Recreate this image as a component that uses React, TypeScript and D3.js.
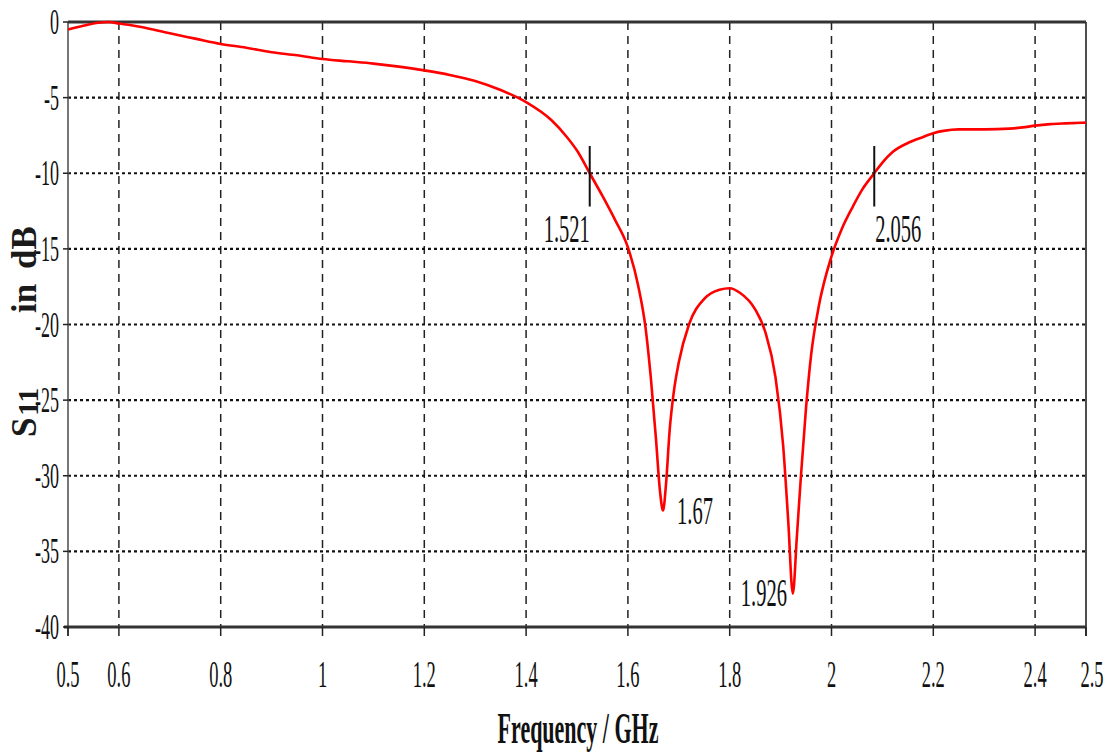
import React from "react";
import * as d3 from "d3";

// S11 curve (GHz, dB)
const freqs = [
  0.5, 0.53, 0.56, 0.58, 0.6, 0.63, 0.66, 0.7, 0.75, 0.8, 0.85, 0.9, 0.95, 1.0,
  1.05, 1.1, 1.15, 1.2, 1.25, 1.3, 1.35, 1.4, 1.45, 1.48, 1.5, 1.525, 1.55,
  1.575, 1.6, 1.62, 1.635, 1.645, 1.655, 1.663, 1.669, 1.675, 1.682, 1.69, 1.7,
  1.72, 1.75, 1.78, 1.8, 1.82, 1.85, 1.87, 1.89, 1.905, 1.915, 1.924, 1.932,
  1.94, 1.95, 1.96, 1.975, 2.0, 2.02, 2.042, 2.06, 2.084, 2.1, 2.12, 2.15, 2.18,
  2.2, 2.22, 2.25, 2.3, 2.35, 2.38, 2.4, 2.43, 2.46, 2.5,
];
const s11 = [
  -0.5, -0.25, -0.05, 0, -0.1, -0.25, -0.45, -0.75, -1.1, -1.45, -1.7, -2.0,
  -2.2, -2.45, -2.6, -2.75, -2.95, -3.2, -3.5, -3.9, -4.5, -5.3, -6.5, -7.6,
  -8.5, -10, -11.5, -13.1, -14.9, -17.4, -20.3, -23.5, -27.5, -31, -32.3, -30.5,
  -27, -24.5, -22.5, -20, -18.3, -17.7, -17.6, -17.9, -19, -20.5, -23.5, -28,
  -33, -37.8, -34, -30, -25.5, -22, -18.8, -15.5, -13.7, -12.2, -11.1, -10, -9.3,
  -8.6, -8.0, -7.6, -7.35, -7.2, -7.1, -7.1, -7.05, -6.95, -6.85, -6.75, -6.7,
  -6.65,
];

const xTicks = [0.5, 0.6, 0.8, 1, 1.2, 1.4, 1.6, 1.8, 2, 2.2, 2.4, 2.5];
const xTickLabels = ["0.5", "0.6", "0.8", "1", "1.2", "1.4", "1.6", "1.8", "2", "2.2", "2.4", "2.5"];
const yTicks = [0, -5, -10, -15, -20, -25, -30, -35, -40];

// -10 dB band edges (marker position, printed label)
const edgeFreqs = [1.525, 2.084];
const edgeLabels = ["1.521", "2.056"];
// resonances
const dipFreqs = [1.669, 1.924];
const dipValues = [-32.3, -37.8];
const dipLabels = ["1.67", "1.926"];

const W = 1112;
const H = 756;
const margin = { top: 22, right: 26, bottom: 129, left: 68 };
const SERIF = "'Liberation Serif', 'Times New Roman', serif";

function Narrow({ x, y, size, anchor = "middle", bold = false, children }: any) {
  return (
    <text
      transform={`translate(${x},${y}) scale(0.5,1)`}
      textAnchor={anchor}
      fontFamily={SERIF}
      fontSize={size}
      fontWeight={bold ? "bold" : "normal"}
      fill="#111"
    >
      {children}
    </text>
  );
}

export default function App() {
  const x = d3.scaleLinear().domain([0.5, 2.5]).range([margin.left, W - margin.right]);
  const y = d3.scaleLinear().domain([0, -40]).range([margin.top, H - margin.bottom]);
  const x0 = x.range()[0];
  const x1 = x.range()[1];
  const y0 = y.range()[0];
  const y1 = y.range()[1];

  const pts = freqs.map((f, i) => [f, s11[i]] as [number, number]);
  const line = d3
    .line<[number, number]>()
    .x((d) => x(d[0]))
    .y((d) => y(d[1]))
    .curve(d3.curveMonotoneX);

  const innerX = xTicks.filter((t) => t > 0.5 && t < 2.5);
  const innerY = yTicks.filter((t) => t < 0 && t > -40);

  return (
    <svg width={W} height={H} style={{ position: "absolute", left: 0, top: 0, background: "#fff" }}>
      {/* grid */}
      {innerX.map((t) => (
        <line key={"gx" + t} x1={x(t)} x2={x(t)} y1={y0} y2={y1}
          stroke="#222" strokeWidth={1.5} strokeDasharray="8,6" />
      ))}
      {innerY.map((t) => (
        <line key={"gy" + t} x1={x0} x2={x1} y1={y(t)} y2={y(t)}
          stroke="#111" strokeWidth={2.2} strokeDasharray="3,3" />
      ))}

      {/* frame */}
      <line x1={x0} x2={x0} y1={y0} y2={y1 + 9} stroke="#555" strokeWidth={1.6} />
      <line x1={x1} x2={x1} y1={y0} y2={y1 + 9} stroke="#222" strokeWidth={1.6} />
      <line x1={x0} x2={x1} y1={y0} y2={y0} stroke="#333" strokeWidth={3} />
      <line x1={x0 - 4} x2={x1} y1={y1} y2={y1} stroke="#333" strokeWidth={3} />

      {/* ticks */}
      {xTicks.map((t) => (
        <line key={"tx" + t} x1={x(t)} x2={x(t)} y1={y1} y2={y1 + 9} stroke="#222" strokeWidth={1.5} />
      ))}
      {yTicks.map((t) => (
        <line key={"ty" + t} x1={x0 - 5} x2={x0} y1={y(t)} y2={y(t)} stroke="#222" strokeWidth={1.5} />
      ))}

      {/* tick labels */}
      {xTicks.map((t, i) => (
        <Narrow key={"lx" + t} x={x(t) + (t === 2.5 ? 6 : 0)} y={y1 + 60} size={37}>
          {xTickLabels[i]}
        </Narrow>
      ))}
      {yTicks.map((t) => (
        <Narrow key={"ly" + t} x={x0 - 9} y={y(t) + 12} size={36} anchor="end">
          {String(t)}
        </Narrow>
      ))}

      {/* curve */}
      <path d={line(pts) || ""} fill="none" stroke="#ff0000" strokeWidth={2.6} strokeLinejoin="round" />

      {/* band-edge markers */}
      {edgeFreqs.map((f, i) => (
        <g key={"e" + f}>
          <line x1={x(f)} x2={x(f)} y1={y(-8.2)} y2={y(-12.2)} stroke="#111" strokeWidth={2} />
          <Narrow x={x(f) + (i === 0 ? -23 : 24)} y={y(-10) + 69} size={41}>
            {edgeLabels[i]}
          </Narrow>
        </g>
      ))}
      {dipFreqs.map((f, i) => (
        <Narrow key={"d" + f} x={x(f) + (i === 0 ? 32 : -29)} y={y(dipValues[i]) + (i === 0 ? 13 : 12)} size={41}>
          {dipLabels[i]}
        </Narrow>
      ))}

      {/* axis titles */}
      <Narrow x={(x0 + x1) / 2 + 1} y={743} size={44} bold>
        Frequency / GHz
      </Narrow>
      <g fontFamily={SERIF} fontWeight="bold" fill="#1a1a1a">
        <text transform="translate(36,437) rotate(-90)" fontSize={35}>S</text>
        <text transform="translate(38,416) rotate(-90)" fontSize={30}>11</text>
        <text transform="translate(36,313) rotate(-90)" fontSize={35}>in</text>
        <text transform="translate(36,269) rotate(-90)" fontSize={35}>dB</text>
      </g>
    </svg>
  );
}
